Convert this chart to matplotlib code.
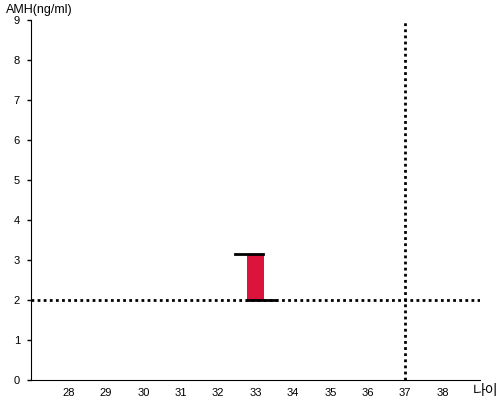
import matplotlib.pyplot as plt

plt.rcParams['font.family'] = ['Liberation Sans', 'Noto Sans CJK KR', 'DejaVu Sans']

# data
ages = [33]
amh_low = [2.0]
amh_high = [3.15]
ref_age = 37
ref_amh = 2
x_ticks = [28, 29, 30, 31, 32, 33, 34, 35, 36, 37, 38]
y_ticks = [0, 1, 2, 3, 4, 5, 6, 7, 8, 9]

fig = plt.figure(figsize=(5, 4), dpi=100)
ax = fig.add_axes([0.062, 0.05, 0.898, 0.90])

# red box with left tick on top, right tick on bottom
for a, lo, hi in zip(ages, amh_low, amh_high):
    ax.bar(a, hi - lo, bottom=lo, width=0.43, color='#dc143c', zorder=2)
    ax.plot([a - 0.55, a + 0.2], [hi, hi], color='black', lw=2, zorder=3)
    ax.plot([a - 0.22, a + 0.55], [lo, lo], color='black', lw=2, zorder=3)

ax.axhline(ref_amh, color='black', ls=(0, (1, 1.2)), lw=2, zorder=4)
ax.axvline(ref_age, color='black', ls=(0, (1, 1.2)), lw=2, zorder=4)

ax.set_xlim(27, 39)
ax.set_ylim(0, 9)
ax.set_xticks(x_ticks)
ax.set_yticks(y_ticks)
ax.tick_params(axis='x', length=0, labelsize=8, pad=6)
ax.tick_params(axis='y', length=3, width=1, labelsize=8, pad=5)
ax.spines['top'].set_visible(False)
ax.spines['right'].set_visible(False)

fig.text(0.012, 0.975, 'AMH(ng/ml)', fontsize=9, va='center', ha='left')
fig.text(0.946, 0.022, '나이', fontsize=10, va='center', ha='left')

fig.savefig('out.png', dpi=100)
